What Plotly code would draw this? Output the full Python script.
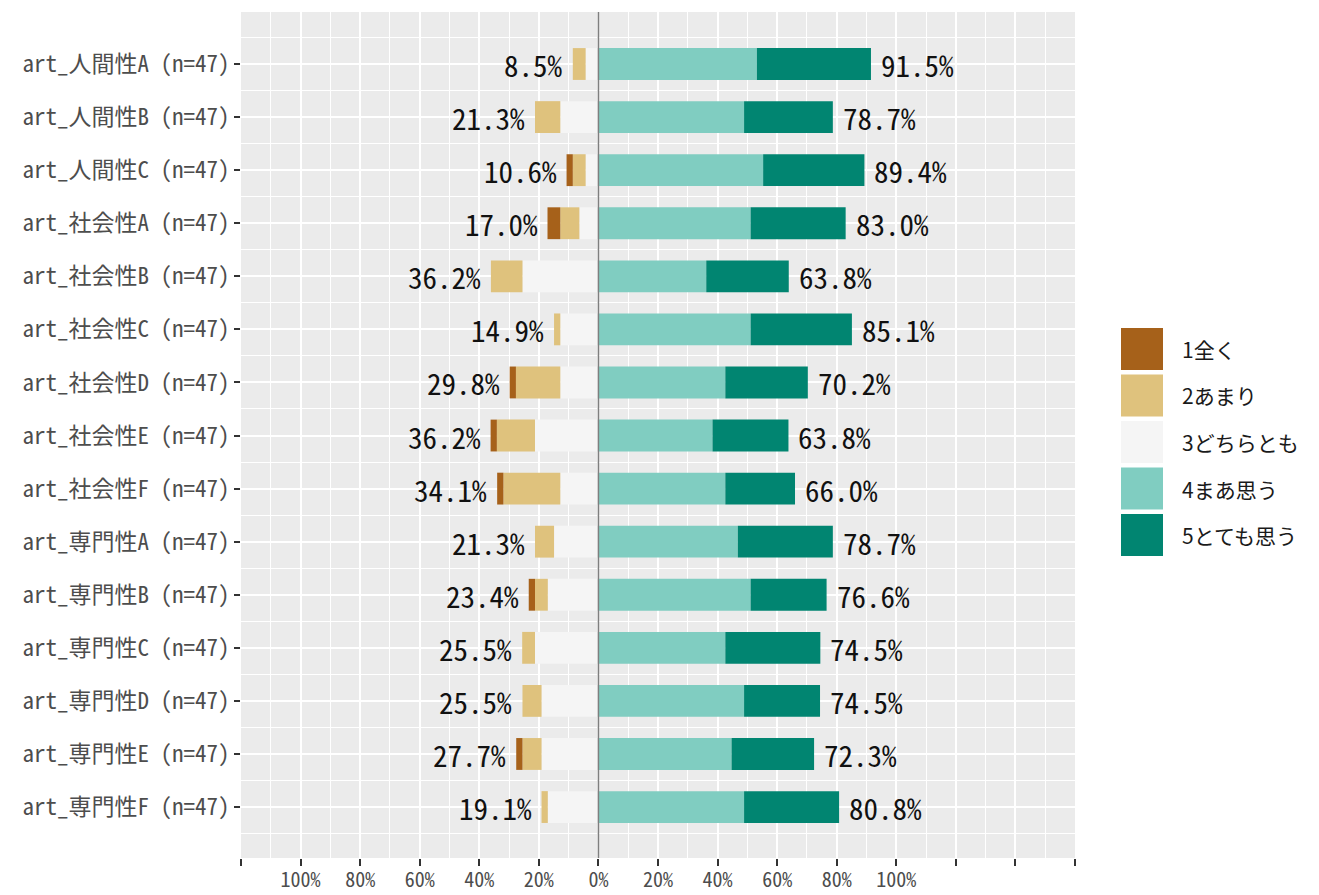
import plotly.graph_objects as go

# ---- data (percent of respondents, n=47) ----
categories = [
    "art_人間性A (n=47)", "art_人間性B (n=47)", "art_人間性C (n=47)",
    "art_社会性A (n=47)", "art_社会性B (n=47)", "art_社会性C (n=47)",
    "art_社会性D (n=47)", "art_社会性E (n=47)", "art_社会性F (n=47)",
    "art_専門性A (n=47)", "art_専門性B (n=47)", "art_専門性C (n=47)",
    "art_専門性D (n=47)", "art_専門性E (n=47)", "art_専門性F (n=47)",
]
levels = ["1全く", "2あまり", "3どちらとも", "4まあ思う", "5とても思う"]
colors = ["#A6611A", "#DFC27D", "#F5F5F5", "#80CDC1", "#018571"]

p1 = [0, 0, 2.1, 4.3, 0, 0, 2.1, 2.1, 2.1, 0, 2.1, 0, 0, 2.1, 0]
p2 = [4.3, 8.5, 4.3, 6.4, 10.6, 2.1, 14.9, 12.8, 19.1, 6.4, 4.3, 4.3, 6.4, 6.4, 2.1]
p3 = [4.3, 12.8, 4.3, 6.4, 25.5, 12.8, 12.8, 21.3, 12.8, 14.9, 17.0, 21.3, 19.1, 19.1, 17.0]
p4 = [53.2, 48.9, 55.3, 51.1, 36.2, 51.1, 42.6, 38.3, 42.6, 46.8, 51.1, 42.6, 48.9, 44.7, 48.9]
p5 = [38.3, 29.8, 34.0, 31.9, 27.7, 34.0, 27.7, 25.5, 23.4, 31.9, 25.5, 31.9, 25.5, 27.7, 31.9]

left_labels = ["8.5%", "21.3%", "10.6%", "17.0%", "36.2%", "14.9%", "29.8%", "36.2%",
               "34.1%", "21.3%", "23.4%", "25.5%", "25.5%", "27.7%", "19.1%"]
right_labels = ["91.5%", "78.7%", "89.4%", "83.0%", "63.8%", "85.1%", "70.2%", "63.8%",
                "66.0%", "78.7%", "76.6%", "74.5%", "74.5%", "72.3%", "80.8%"]

x_tickvals = [-120, -100, -80, -60, -40, -20, 0, 20, 40, 60, 80, 100, 120, 140, 160]
x_ticktext = ["", "100%", "80%", "60%", "40%", "20%", "0%", "20%", "40%", "60%", "80%", "100%", "", "", ""]

# ---- figure geometry (page has an 8px body margin) ----
OFF = 8
W, H = 1319 - OFF, 895 - OFF
ML = 241 - OFF
MT = 12 - OFF
MR = W - (1075 - OFF)
MB = H - (858 - OFF)
MONO = "Noto Sans Mono CJK JP, Noto Sans CJK JP, monospace"
JP = "Noto Sans CJK JP, sans-serif"

pos = list(range(len(categories)))
fig = go.Figure()

for idx, vals in [(2, p3), (1, p2), (0, p1)]:
    fig.add_trace(go.Bar(y=pos, x=[-v for v in vals], orientation="h", width=0.6,
                         marker=dict(color=colors[idx], line=dict(width=0)),
                         name=levels[idx], showlegend=False, hoverinfo="skip"))
for idx, vals in [(3, p4), (4, p5)]:
    fig.add_trace(go.Bar(y=pos, x=vals, orientation="h", width=0.6,
                         marker=dict(color=colors[idx], line=dict(width=0)),
                         name=levels[idx], showlegend=False, hoverinfo="skip"))

annotations = []
for i in pos:
    left_total = p1[i] + p2[i] + p3[i]
    right_total = p4[i] + p5[i]
    annotations.append(dict(x=-left_total, y=i, xref="x", yref="y", text=left_labels[i],
                            showarrow=False, xanchor="right", yanchor="middle", xshift=-8,
                            font=dict(family=MONO, size=29, color="#111111")))
    annotations.append(dict(x=right_total, y=i, xref="x", yref="y", text=right_labels[i],
                            showarrow=False, xanchor="left", yanchor="middle", xshift=8,
                            font=dict(family=MONO, size=29, color="#111111")))

# custom legend (large keys like ggplot)
pw = W - ML - MR
ph = H - MT - MB
def px_x(px):
    return (px - OFF - ML) / pw
def px_y(py):
    return (H - MB - (py - OFF)) / ph

shapes = []
key_top = 328
pitch = 46.5
for k, lab in enumerate(levels):
    t = key_top + k * pitch
    b = t + 42
    shapes.append(dict(type="rect", xref="paper", yref="paper",
                       x0=px_x(1121), x1=px_x(1163), y0=px_y(b), y1=px_y(t),
                       fillcolor=colors[k], line=dict(width=0), layer="above"))
    annotations.append(dict(x=px_x(1180), y=px_y((t + b) / 2), xref="paper", yref="paper",
                            text=lab, showarrow=False, xanchor="left", yanchor="middle",
                            font=dict(family=JP, size=21, color="#1A1A1A")))

# zero reference line
shapes.append(dict(type="line", xref="x", yref="paper", x0=0, x1=0, y0=0, y1=1,
                   line=dict(color="#7F7F7F", width=1.5), layer="above"))

fig.update_layout(
    barmode="relative",
    width=W, height=H,
    margin=dict(l=ML, r=MR, t=MT, b=MB, autoexpand=False),
    paper_bgcolor="white",
    plot_bgcolor="#EBEBEB",
    showlegend=False,
    shapes=shapes,
    annotations=annotations,
)
fig.update_xaxes(
    range=[-120, 160], tickmode="array", tickvals=x_tickvals, ticktext=x_ticktext,
    showgrid=True, gridcolor="white", gridwidth=1.6, zeroline=False,
    ticks="outside", ticklen=7, tickwidth=1.5, tickcolor="#333333",
    tickfont=dict(family=MONO, size=20, color="#4D4D4D"),
    ticklabelstandoff=-3,
    minor=dict(dtick=10, tick0=-110, showgrid=True, gridcolor="white", gridwidth=0.7, ticks=""),
    showline=False, automargin=False, fixedrange=True,
)
fig.update_yaxes(
    range=[14.96, -0.98], tickmode="array", tickvals=pos, ticktext=categories,
    showgrid=True, gridcolor="white", gridwidth=1.6, zeroline=False,
    ticks="outside", ticklen=6, tickwidth=1.5, tickcolor="#333333",
    tickfont=dict(family=MONO, size=23, color="#4D4D4D"),
    minor=dict(dtick=1, tick0=0.5, showgrid=True, gridcolor="white", gridwidth=0.7, ticks=""),
    showline=False, automargin=False, fixedrange=True,
)

fig.write_html("out.html")
